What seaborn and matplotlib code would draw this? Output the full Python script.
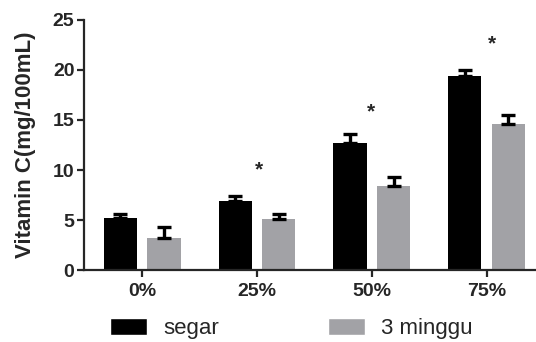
import seaborn as sns
import matplotlib.pyplot as plt
import pandas as pd
from matplotlib.patches import Patch

# data
kategori = ['0%', '25%', '50%', '75%']
segar = [5.2, 6.9, 12.7, 19.4]
segar_err = [0.4, 0.55, 0.85, 0.6]
minggu3 = [3.2, 5.1, 8.4, 14.6]
minggu3_err = [1.1, 0.5, 0.9, 0.9]
bintang_y = [None, 10.0, 15.8, 22.6]
bintang_dx = [0, 0.02, -0.01, 0.05]

hitam = '#000000'
abu = '#a2a2a6'

df = pd.DataFrame({
    'kategori': kategori * 2,
    'nilai': segar + minggu3,
    'grup': ['segar'] * 4 + ['3 minggu'] * 4,
})

sns.set_style('ticks')
plt.rcParams['font.family'] = ['Liberation Sans', 'DejaVu Sans']

fig = plt.figure(figsize=(5.36, 3.42), dpi=100)
ax = fig.add_axes([0.157, 0.21, 0.843, 0.732])

sns.barplot(data=df, x='kategori', y='nilai', hue='grup', order=kategori,
            hue_order=['segar', '3 minggu'], palette=[hitam, abu],
            width=0.76, gap=0.24, errorbar=None, legend=False,
            saturation=1, ax=ax, edgecolor='none')

# one-sided error bars
errs = segar_err + minggu3_err
for p, e in zip(ax.patches, errs):
    xc = p.get_x() + p.get_width() / 2
    h = p.get_height()
    ax.errorbar(xc, h, yerr=[[0], [e]], fmt='none', ecolor='black',
                elinewidth=2.4, capsize=5, capthick=2.4, zorder=3)

for i, y in enumerate(bintang_y):
    if y is not None:
        ax.text(i + bintang_dx[i], y, '*', ha='center', va='center',
                fontsize=15, fontweight='bold')

ax.set_ylim(0, 25)
ax.set_yticks([0, 5, 10, 15, 20, 25])
ax.set_xlim(-0.506, 3.43)
ax.set_xlabel('')
ax.set_ylabel('Vitamin C(mg/100mL)', fontsize=16, fontweight='bold', labelpad=12)
sns.despine(ax=ax)
for s in ['left', 'bottom']:
    ax.spines[s].set_linewidth(1.6)
ax.tick_params(axis='both', width=1.6, length=5, labelsize=14, pad=2)
ax.tick_params(axis='x', pad=4)
for lab in ax.get_xticklabels() + ax.get_yticklabels():
    lab.set_fontweight('bold')

handles = [Patch(facecolor=hitam, label='segar'),
           Patch(facecolor=abu, label='3 minggu')]
fig.legend(handles=handles, loc='center left', bbox_to_anchor=(0.205, 0.04),
           ncol=2, frameon=False, fontsize=16, handlelength=1.67,
           handleheight=0.81, handletextpad=0.72, columnspacing=4.9,
           borderpad=0, borderaxespad=0)

fig.savefig('out.png', dpi=100)
